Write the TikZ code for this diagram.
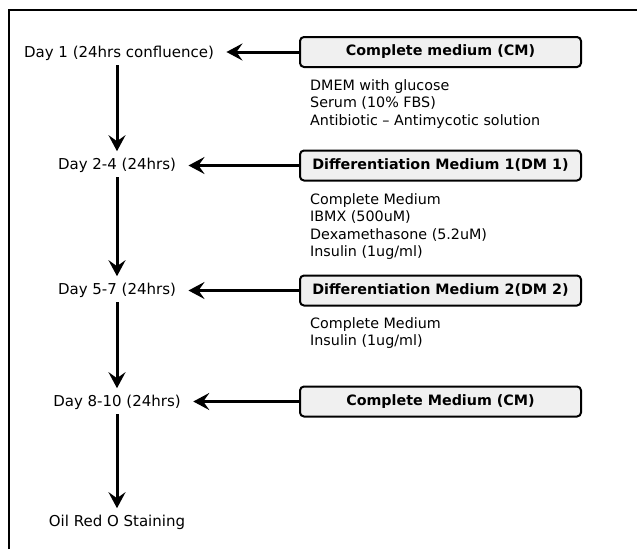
\documentclass[tikz,border=0pt]{standalone}
\usepackage{fontspec}
\setmainfont{DejaVu Sans}
\usetikzlibrary{arrows.meta}

\begin{document}
\begin{tikzpicture}[x=1pt, y=-1pt,
  every node/.style={font=\fontsize{15}{17.5}\selectfont},
  medium/.style={draw, line width=2pt, rounded corners=4pt, fill=black!6, minimum width=281pt, minimum height=30pt, font=\fontsize{14.3}{17.5}\selectfont\bfseries},
  note/.style={anchor=north west, align=left, inner sep=0pt, font=\fontsize{14.3}{17.5}\selectfont},
  flow/.style={-{Stealth[length=16pt, width=17pt, inset=6pt]}, line width=3pt}]
\useasboundingbox (0,0) rectangle (637,549);
\draw[line width=2pt] (9,549) |- (637,10);

\node (d1) at (119,53) {Day 1 (24hrs confluence)};
\node (d2) at (117,165) {Day 2-4 (24hrs)};
\node (d3) at (117,290) {Day 5-7 (24hrs)};
\node (d4) at (117,402) {Day 8-10 (24hrs)};
\node (stain) at (117,522) {Oil Red O Staining};

\node[medium] (cm1) at (440.5,52) {Complete medium (CM)};
\node[medium] (dm1) at (440.5,165.5) {Differentiation Medium 1(DM 1)};
\node[medium] (dm2) at (440.5,290.5) {Differentiation Medium 2(DM 2)};
\node[medium] (cm2) at (440.5,401.5) {Complete Medium (CM)};

\node[note] (n1) at (310,79) {DMEM with glucose\\Serum (10\% FBS)\\Antibiotic -- Antimycotic solution};
\node[note] (n2) at (310,193) {Complete Medium\\IBMX (500uM)\\Dexamethasone (5.2uM)\\Insulin (1ug/ml)};
\node[note] (n3) at (310,317) {Complete Medium\\Insulin (1ug/ml)};

\draw[flow, shorten >=9pt] (cm1.west) -- (cm1.west -| d1.east);
\draw[flow, shorten >=9pt] (dm1.west) -- (dm1.west -| d2.east);
\draw[flow, shorten >=9pt] (dm2.west) -- (dm2.west -| d3.east);
\draw[flow, shorten >=9pt] (cm2.west) -- (cm2.west -| d4.east);

\draw[flow, shorten <=1.5pt, shorten >=3pt] (d1.south -| d2) -- (d2);
\draw[flow, shorten <=1.5pt, shorten >=3pt] (d2) -- (d3);
\draw[flow, shorten <=1.5pt, shorten >=3pt] (d3) -- (d4);
\draw[flow, shorten <=1.5pt, shorten >=3pt] (d4) -- (stain);
\end{tikzpicture}
\end{document}
